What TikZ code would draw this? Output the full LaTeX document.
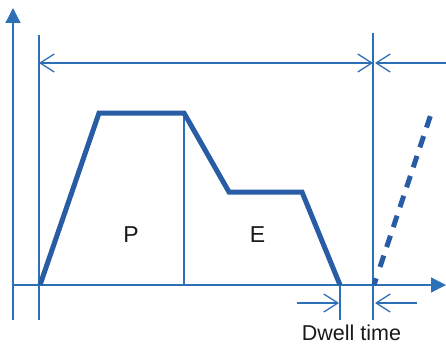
\documentclass[tikz,border=0pt]{standalone}
\usepackage{fontspec}
\setmainfont{Liberation Sans}
\usetikzlibrary{arrows.meta}
\definecolor{thinblue}{RGB}{46,112,182}
\definecolor{thickblue}{RGB}{40,92,165}
\definecolor{txt}{RGB}{25,25,25}
\tikzset{
  thinline/.style={draw=thinblue, line width=1.3pt},
  barb/.tip={Straight Barb[length=14pt,width=18pt,line width=1.3pt]},
  dimarrow/.style={thinline, -barb},
  axisarrow/.style={thinline, -{Triangle[length=15pt,width=15pt]}},
  profile/.style={draw=thickblue, line width=5pt, line join=miter},
  lbl/.style={text=txt, anchor=base, inner sep=0pt, font=\fontsize{23}{23}\selectfont},
}
\begin{document}
\begin{tikzpicture}[x=1pt,y=-1pt]
\useasboundingbox (0,0) rectangle (446,345);
% coordinates
\coordinate (yb) at (13,320);
\coordinate (yt) at (13,8);
\coordinate (xl) at (12,285);
\coordinate (xr) at (446,285);
\coordinate (v1t) at (39,35);
\coordinate (v1b) at (39,320);
\coordinate (v2t) at (373,33);
\coordinate (v2b) at (373,320);
\coordinate (ha) at (39,63);
\coordinate (hb) at (373,63);
\coordinate (hr) at (446,63);
\coordinate (p0) at (40,285);
\coordinate (p1) at (99,113);
\coordinate (p2) at (184,113);
\coordinate (p3) at (229,192);
\coordinate (p4) at (302,192);
\coordinate (p5) at (340,285);
\coordinate (v3b) at (184,285);
\coordinate (v4b) at (340,320);
\coordinate (dl0) at (297,303);
\coordinate (dl1) at (339,303);
\coordinate (dr0) at (417,303);
\coordinate (dr1) at (375,303);
\coordinate (d0) at (374,285);
\coordinate (d1) at (432,111);
% axes
\draw[axisarrow] (yb) -- (yt);
\draw[axisarrow] (xl) -- (xr);
% vertical guides
\draw[thinline] (v1t) -- (v1b);
\draw[thinline] (v2t) -- (v2b);
\draw[thinline] (p2) -- (v3b);
\draw[thinline] (p5) -- (v4b);
% top dimension
\draw[thinline, barb-barb] (ha) -- (hb);
\draw[dimarrow] (hr) -- ([xshift=2pt]hb);
% dwell arrows
\draw[dimarrow] (dl0) -- (dl1);
\draw[dimarrow] (dr0) -- (dr1);
% profile
\draw[profile] (p0) -- (p1) -- (p2) -- (p3) -- (p4) -- (p5);
% dashed rise
\draw[draw=thickblue, line width=5pt, dash pattern=on 7pt off 12pt on 12pt off 9pt on 12pt off 9pt on 12pt off 9pt on 12pt off 9pt on 12pt off 9pt on 12pt off 9pt on 12pt off 9pt on 12pt off 9pt] (d0) -- (d1);
% labels
\node[lbl] (P) at (131,242) {P};
\node[lbl] (E) at (257.5,242) {E};
\node[lbl, font=\fontsize{21.5}{21.5}\selectfont] (D) at (351.5,340) {Dwell time};
\end{tikzpicture}
\end{document}
